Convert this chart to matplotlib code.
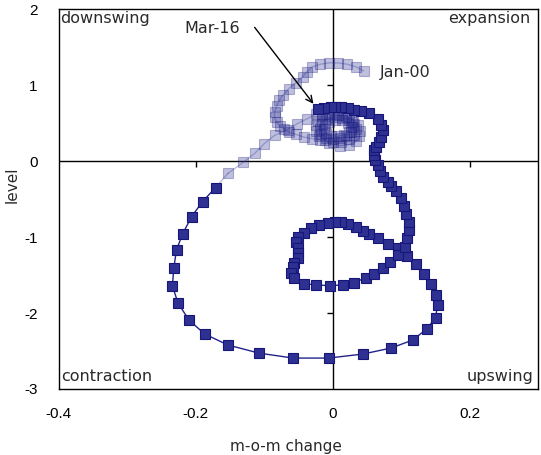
import matplotlib
matplotlib.use("Agg")
import matplotlib.pyplot as plt

plt.rcParams['axes.unicode_minus'] = False

# monthly position on the cycle clock: x = m-o-m change, y = level
# Jan-00 through 2007 (faded history)
light_x = [0.045, 0.034, 0.021, 0.007, -0.005, -0.018, -0.030, -0.038, -0.044, -0.054,
           -0.064, -0.073, -0.078, -0.082, -0.085, -0.085, -0.082, -0.077, -0.071, -0.064,
           -0.054, -0.042, -0.030, -0.018,
           -0.005, 0.010, 0.024, 0.034, 0.039, 0.040, 0.037, 0.030, 0.020, 0.008,
           -0.005, -0.015, -0.022, -0.025, -0.024, -0.020, -0.012,
           0.000, 0.012, 0.024, 0.031, 0.034, 0.031, 0.024, 0.013, 0.002,
           -0.009, -0.016, -0.019, -0.017, -0.010,
           0.000, 0.011, 0.020, 0.026, 0.027, 0.022, 0.013, 0.003,
           -0.006, -0.012, -0.013, -0.010, -0.003,
           0.007, 0.016, 0.024, 0.029, 0.028, 0.020, 0.008, -0.005, -0.015,
           -0.025, -0.037, -0.052, -0.066, -0.085, -0.100, -0.114, -0.131, -0.153]
light_y = [1.189, 1.242, 1.277, 1.295, 1.295, 1.277, 1.242, 1.176, 1.110, 1.030,
           0.956, 0.868, 0.802, 0.723, 0.643, 0.577, 0.511, 0.458, 0.428, 0.383,
           0.353, 0.317, 0.296, 0.280,
           0.240, 0.205, 0.215, 0.260, 0.330, 0.400, 0.470, 0.535, 0.590, 0.625,
           0.625, 0.590, 0.535, 0.470, 0.400, 0.335, 0.280,
           0.250, 0.255, 0.290, 0.350, 0.420, 0.485, 0.540, 0.570, 0.575,
           0.550, 0.495, 0.430, 0.360, 0.310,
           0.290, 0.300, 0.335, 0.390, 0.450, 0.505, 0.540, 0.545,
           0.520, 0.475, 0.420, 0.365, 0.335,
           0.325, 0.345, 0.390, 0.455, 0.520, 0.575, 0.605, 0.620, 0.625,
           0.617, 0.560, 0.494, 0.415, 0.340, 0.230, 0.102, -0.017, -0.162]

# 2008 through Mar-16
dark_x = [-0.171, -0.190, -0.206, -0.219, -0.228, -0.232, -0.234, -0.226, -0.210, -0.187,
          -0.153, -0.108, -0.058, -0.006, 0.044, 0.085, 0.117, 0.137, 0.150, 0.153,
          0.150, 0.143, 0.133, 0.121, 0.108, 0.095, 0.080, 0.066, 0.053, 0.044,
          0.034, 0.022, 0.012, 0.003, -0.007, -0.020, -0.032, -0.042, -0.050, -0.053,
          -0.051, -0.050, -0.051, -0.057, -0.058, -0.061, -0.057, -0.042, -0.025, -0.004,
          0.015, 0.031, 0.048, 0.060, 0.073, 0.083, 0.095, 0.105, 0.109, 0.111,
          0.111, 0.107, 0.104, 0.099, 0.092, 0.085, 0.080, 0.074, 0.069, 0.066,
          0.061, 0.060, 0.060, 0.063, 0.067, 0.070, 0.073, 0.070, 0.066, 0.053,
          0.041, 0.031, 0.022, 0.012, 0.004, -0.003, -0.013, -0.022]
dark_y = [-0.347, -0.532, -0.730, -0.955, -1.166, -1.404, -1.642, -1.866, -2.091, -2.276,
          -2.421, -2.527, -2.593, -2.593, -2.540, -2.461, -2.355, -2.210, -2.064, -1.893,
          -1.760, -1.615, -1.483, -1.351, -1.245, -1.139, -1.087, -1.008, -0.955, -0.914,
          -0.862, -0.822, -0.796, -0.796, -0.809, -0.835, -0.875, -0.941, -0.994, -1.060,
          -1.139, -1.205, -1.271, -1.337, -1.390, -1.469, -1.535, -1.614, -1.628, -1.641,
          -1.628, -1.601, -1.535, -1.482, -1.403, -1.324, -1.231, -1.126, -1.007, -0.902,
          -0.796, -0.690, -0.584, -0.479, -0.387, -0.321, -0.268, -0.215, -0.136, -0.057,
          0.009, 0.075, 0.141, 0.181, 0.247, 0.313, 0.406, 0.472, 0.551, 0.630,
          0.657, 0.670, 0.696, 0.709, 0.709, 0.709, 0.696, 0.683]

x_ticks = [-0.4, -0.2, 0, 0.2]
x_labels = ['-0.4', '-0.2', '0', '0.2']
y_ticks = [-3, -2, -1, 0, 1, 2]

navy = '#2e3192'
edge = '#16167a'
text_col = '#2a2a2a'
label_font = 'DejaVu Sans'

fig = plt.figure(figsize=(5.41, 4.55), dpi=100)
ax = fig.add_axes([0.1085, 0.1451, 0.8865, 0.8345])

ax.set_xlim(-0.4, 0.3)
ax.set_ylim(-3, 2)
ax.set_xticks(x_ticks)
ax.set_xticklabels(x_labels)
ax.set_yticks(y_ticks)
for lab in ax.get_xticklabels() + ax.get_yticklabels():
    lab.set_family('Liberation Sans')
    lab.set_fontsize(11)
ax.tick_params(axis='x', length=0, pad=13)
ax.tick_params(axis='y', length=0, pad=15)
for sp in ax.spines.values():
    sp.set_color('k')
    sp.set_linewidth(1)

# axes crossing at the origin, with their own little ticks
ax.axhline(0, color='k', lw=1, zorder=1)
ax.axvline(0, color='k', lw=1, zorder=1)
ax.plot([-0.2, 0.2], [0, 0], ls='none', marker=3, ms=4, mew=1, color='k', zorder=1)
ax.plot([0, 0, 0], [1, -1, -2], ls='none', marker=0, ms=4, mew=1, color='k', zorder=1)

# faded history
ax.plot(light_x, light_y, '-s', color=navy, lw=1, ms=6.5, mfc=navy, mec=edge,
        mew=0.8, alpha=0.3, zorder=2)
ax.plot([light_x[-1], dark_x[0]], [light_y[-1], dark_y[0]], '-', color=navy,
        lw=1, alpha=0.3, zorder=2)
# recent path
ax.plot(dark_x, dark_y, '-s', color='#22238a', lw=1, ms=6.5, mfc=navy, mec=edge,
        mew=0.8, zorder=3)

# quadrant names
qkw = dict(transform=ax.transAxes, fontsize=11.5, family=label_font, color=text_col)
ax.text(0.004, 0.963, 'downswing', ha='left', va='baseline', **qkw)
ax.text(0.983, 0.963, 'expansion', ha='right', va='baseline', **qkw)
ax.text(0.006, 0.022, 'contraction', ha='left', va='baseline', **qkw)
ax.text(0.99, 0.022, 'upswing', ha='right', va='baseline', **qkw)

# point labels
ax.text(0.069, 1.106, 'Jan-00', fontsize=11.5, family=label_font, color=text_col,
        va='baseline')
ax.text(-0.216, 1.687, 'Mar-16', fontsize=11.5, family=label_font, color=text_col,
        va='baseline')
ax.annotate('', xy=(dark_x[-1], dark_y[-1]), xytext=(-0.114, 1.762),
            arrowprops=dict(arrowstyle='->', color='k', lw=1, shrinkA=0, shrinkB=5,
                            mutation_scale=12), zorder=4)

ax.set_xlabel('m-o-m change', fontsize=11, family=label_font, color=text_col,
              va='center')
ax.xaxis.set_label_coords(0.474, -0.152)
ax.set_ylabel('level', fontsize=11, family=label_font, color=text_col, va='center')
ax.yaxis.set_label_coords(-0.097, 0.537)

fig.savefig('out.png', dpi=100)
